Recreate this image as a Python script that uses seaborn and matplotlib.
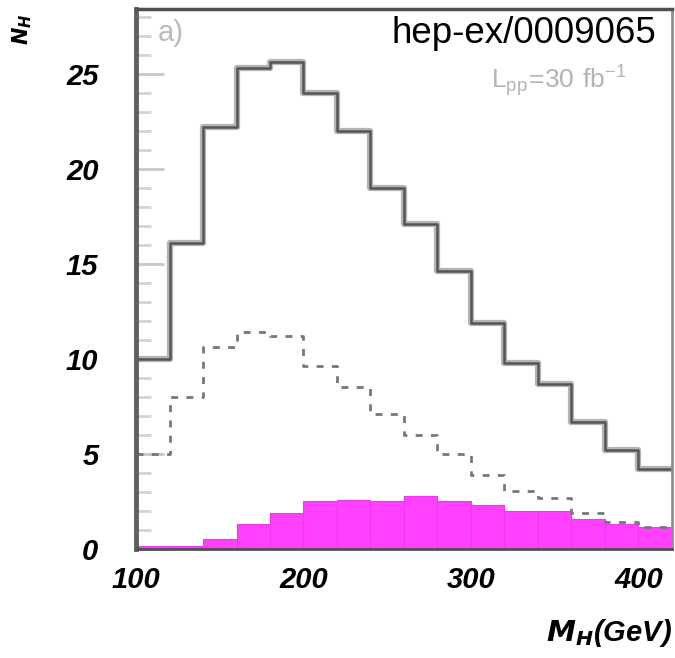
import numpy as np
import pandas as pd
import seaborn as sns
import matplotlib.pyplot as plt
from matplotlib.ticker import MultipleLocator

# bin edges in M_H (GeV), 20 GeV wide
bin_edges = [100, 120, 140, 160, 180, 200, 220, 240, 260, 280, 300,
             320, 340, 360, 380, 400, 420]

# solid histogram (total)
n_total = [10.0, 16.1, 22.2, 25.3, 25.6, 24.0, 22.0, 19.0, 17.1, 14.6,
           11.9, 9.8, 8.7, 6.7, 5.2, 4.2]
# dashed histogram
n_dashed = [5.0, 8.0, 10.6, 11.4, 11.2, 9.6, 8.5, 7.1, 6.0, 5.0,
            3.9, 3.05, 2.7, 1.9, 1.4, 1.15]
# magenta filled histogram
n_signal = [0.15, 0.15, 0.5, 1.3, 1.9, 2.5, 2.6, 2.5, 2.8, 2.5,
            2.3, 2.0, 2.0, 1.6, 1.3, 1.15]

centers = [(a + b) / 2 for a, b in zip(bin_edges[:-1], bin_edges[1:])]
df = pd.DataFrame({"mh": centers, "total": n_total,
                   "dashed": n_dashed, "signal": n_signal})

sns.set_style("ticks")
plt.rcParams['font.family'] = ['Liberation Sans', 'DejaVu Sans']

fig = plt.figure(figsize=(6.75, 6.58), dpi=100)
ax = fig.add_axes([0.2015, 0.1657, 0.794, 0.8206])

# magenta fill
sns.histplot(data=df, x="mh", weights="signal", bins=bin_edges,
             element="bars", fill=True, color="#ff40ff", alpha=1,
             edgecolor="#ee38ee", linewidth=0.8, ax=ax)

# dashed line
sns.histplot(data=df, x="mh", weights="dashed", bins=bin_edges,
             element="step", fill=False, color="#787878",
             linewidth=2.0, linestyle=(0, (2.5, 3)), ax=ax)

# solid line: light shadow then dark stroke
sns.histplot(data=df, x="mh", weights="total", bins=bin_edges,
             element="step", fill=False, color="#b4b4b4",
             linewidth=4.5, ax=ax)
sns.histplot(data=df, x="mh", weights="total", bins=bin_edges,
             element="step", fill=False, color="#555555",
             linewidth=1.8, ax=ax)

ax.set_xlim(100, 420)
ax.set_ylim(0, 28.4)
ax.set_xticks([100, 200, 300, 400])
ax.set_yticks([0, 5, 10, 15, 20, 25])
ax.yaxis.set_minor_locator(MultipleLocator(1))
ax.set_xlabel("")
ax.set_ylabel("")

tick_font = dict(family='Liberation Sans', weight='bold', style='italic',
                 size=21, color='black')
ax.set_xticklabels(["100", "200", "300", "400"], fontdict=tick_font)
ax.set_yticklabels(["0", "5", "10", "15", "20", "25"], fontdict=tick_font)
ax.tick_params(axis='y', which='major', direction='in', length=20, width=2,
               color='#c8c8c8', pad=27)
ax.tick_params(axis='y', which='minor', direction='in', length=11, width=2,
               color='#d4d4d4')
ax.tick_params(axis='x', which='major', direction='in', length=0, pad=12)

for side, lw, col in [("left", 3.5, "#606060"), ("top", 2.5, "#505050"),
                      ("right", 2.0, "#909090"), ("bottom", 2.0, "#505050")]:
    ax.spines[side].set_visible(True)
    ax.spines[side].set_linewidth(lw)
    ax.spines[side].set_color(col)

ax.text(0.041, 0.955, "a)", transform=ax.transAxes, fontsize=21,
        color="#bcbcbc", ha="left", va="center")
ax.text(0.97, 0.955, "hep-ex/0009065", transform=ax.transAxes,
        fontsize=26.5, color="black", ha="right", va="center")
ax.text(0.916, 0.866, r"$\mathregular{L_{pp}\!=\!30\ fb^{-1}}$",
        transform=ax.transAxes, fontsize=19, color="#b4b4b4",
        ha="right", va="center")

fig.text(0.033, 0.955, r"$\mathbfit{N_H}$", rotation=90, fontsize=15,
         color="black", ha="center", va="center")
fig.text(0.995, 0.038, r"$\mathbfit{M_H}$(GeV)", fontsize=21, style='italic',
         weight='bold', color="black", ha="right", va="center")

fig.savefig("out.png", dpi=100)
